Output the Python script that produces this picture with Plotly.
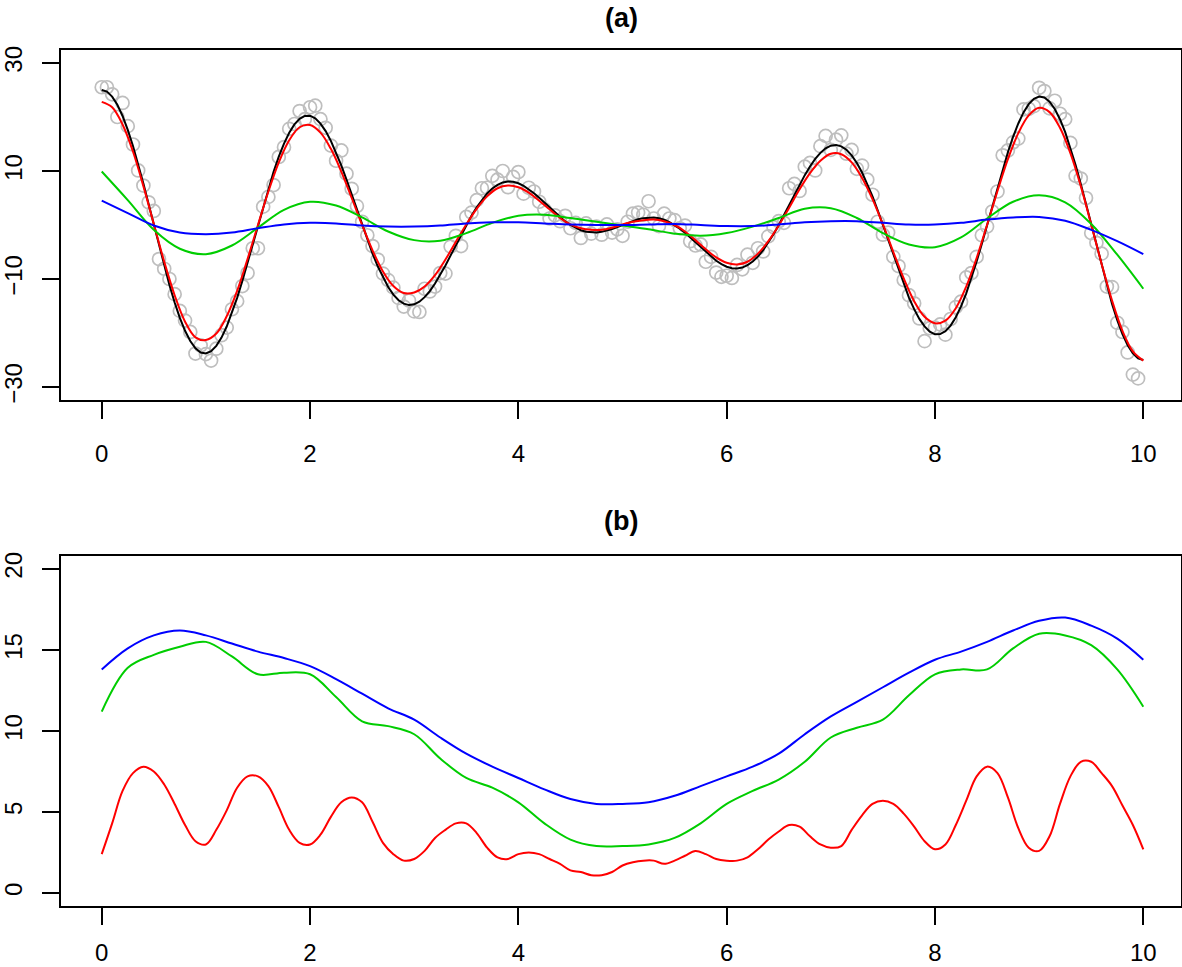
import plotly.graph_objects as go

# ---------------- Panel (a) data ----------------
pts_x = [round(i * 0.05, 2) for i in range(200)]
pts_y = [25.5, 25.5, 24.2, 20.0, 22.6, 18.3, 14.9, 10.1, 7.3, 4.2,
         2.6, -6.3, -8.1, -10.0, -12.8, -15.9, -17.7, -19.8, -23.8, -22.3,
         -23.9, -25.1, -22.9, -20.4, -19.0, -15.6, -14.1, -11.3, -8.9, -4.3,
         -4.3, 3.4, 5.2, 7.4, 12.6, 14.4, 17.8, 18.7, 21.1, 19.6,
         21.8, 22.1, 19.6, 18.0, 14.7, 11.9, 13.8, 9.5, 6.7, 3.5,
         0.6, -1.9, -3.9, -6.4, -9.0, -10.2, -11.6, -13.5, -15.1, -14.0,
         -16.0, -16.1, -11.8, -12.3, -11.4, -8.9, -9.0, -4.0, -2.0, -3.9,
         1.5, 2.3, 4.6, 6.8, 6.9, 9.1, 8.4, 10.0, 7.0, 8.9,
         9.8, 5.8, 6.9, 6.2, 4.3, 2.9, 1.2, 1.8, 0.7, 1.7,
         -0.6, 0.4, -2.4, 0.3, -1.6, -0.3, -1.8, 0.1, -1.4, -0.8,
         -2.0, 0.6, 2.1, 2.3, 1.9, 4.4, 1.2, -0.2, 2.1, 1.2,
         0.9, -0.6, -0.1, -3.0, -3.8, -3.6, -6.8, -5.9, -8.8, -9.6,
         -9.4, -9.8, -7.4, -8.2, -5.5, -7.0, -4.3, -4.9, -2.1, -0.4,
         0.7, 0.4, 6.8, 7.6, 6.3, 10.8, 11.5, 10.1, 14.6, 16.5,
         13.9, 15.8, 16.6, 13.2, 13.9, 10.4, 11.0, 8.4, 5.6, 0.6,
         -1.8, -1.4, -5.9, -7.6, -10.2, -13.0, -14.5, -17.3, -21.5, -19.1,
         -19.0, -18.4, -20.3, -17.4, -15.2, -14.2, -9.7, -8.9, -5.9, -1.9,
         -0.3, 2.5, 6.2, 12.9, 13.8, 15.3, 16.0, 21.4, 21.5, 22.0,
         25.4, 24.8, 21.6, 23.0, 20.6, 19.6, 15.2, 9.1, 8.6, 5.0,
         -1.5, -3.3, -5.3, -11.4, -11.5, -18.1, -19.8, -23.6, -27.7, -28.4]

true_x = [round(i * 0.05, 2) for i in range(201)]
true_y = [25.00, 24.69, 23.77, 22.25, 20.18, 17.62, 14.63, 11.28, 7.66, 3.87,
          0.00, -3.85, -7.59, -11.11, -14.34, -17.19, -19.59, -21.48, -22.84, -23.60,
          -23.78, -23.36, -22.37, -20.84, -18.80, -16.33, -13.48, -10.35, -6.99, -3.51,
          0.00, 3.45, 6.77, 9.86, 12.65, 15.08, 17.08, 18.62, 19.67, 20.20,
          20.23, 19.74, 18.78, 17.38, 15.58, 13.44, 11.02, 8.39, 5.63, 2.81,
          0.00, -2.72, -5.29, -7.64, -9.72, -11.48, -12.90, -13.93, -14.57, -14.83,
          -14.69, -14.20, -13.36, -12.23, -10.84, -9.23, -7.48, -5.63, -3.72, -1.83,
          0.00, 1.72, 3.29, 4.67, 5.84, 6.77, 7.44, 7.88, 8.06, 8.00,
          7.73, 7.26, 6.63, 5.88, 5.03, 4.13, 3.20, 2.30, 1.45, 0.67,
          0.00, -0.55, -0.97, -1.24, -1.38, -1.39, -1.27, -1.05, -0.75, -0.39,
          0.00, 0.39, 0.75, 1.05, 1.27, 1.39, 1.38, 1.24, 0.97, 0.55,
          0.00, -0.67, -1.45, -2.30, -3.20, -4.13, -5.03, -5.88, -6.63, -7.26,
          -7.73, -8.00, -8.06, -7.88, -7.44, -6.77, -5.84, -4.67, -3.29, -1.72,
          0.00, 1.83, 3.72, 5.63, 7.48, 9.23, 10.84, 12.23, 13.36, 14.20,
          14.69, 14.83, 14.57, 13.93, 12.90, 11.48, 9.72, 7.64, 5.29, 2.72,
          0.00, -2.81, -5.63, -8.39, -11.02, -13.44, -15.58, -17.38, -18.78, -19.74,
          -20.23, -20.20, -19.67, -18.62, -17.08, -15.08, -12.65, -9.86, -6.77, -3.45,
          0.00, 3.51, 6.99, 10.35, 13.48, 16.33, 18.80, 20.84, 22.37, 23.36,
          23.78, 23.60, 22.84, 21.48, 19.59, 17.19, 14.34, 11.11, 7.59, 3.85,
          0.00, -3.87, -7.66, -11.28, -14.63, -17.62, -20.18, -22.25, -23.77, -24.69,
          -25.00]

fit_x = [round(i * 0.1, 1) for i in range(101)]
red_a = [22.8, 21.8, 18.6, 13.6, 7.2, 0.2, -6.8, -13.0, -17.9, -20.8,
         -21.3, -20.1, -16.9, -12.2, -6.3, 0.0, 6.2, 11.6, 15.7, 18.1,
         18.5, 17.1, 14.1, 9.9, 5.0, 0.0, -4.7, -8.6, -11.3, -12.6,
         -12.5, -11.4, -9.3, -6.4, -3.1, 0.1, 3.0, 5.3, 6.8, 7.3,
         7.0, 6.0, 4.5, 2.9, 1.3, 0.1, -0.6, -0.9, -0.9, -0.5,
         0.1, 0.6, 0.9, 1.0, 0.7, 0.0, -1.2, -2.8, -4.5, -6.0,
         -7.0, -7.3, -6.8, -5.3, -3.0, -0.1, 3.2, 6.6, 9.6, 11.9,
         13.2, 13.1, 11.6, 8.7, 4.8, 0.1, -5.0, -9.9, -14.1, -17.0,
         -18.2, -17.7, -15.4, -11.4, -6.1, 0.0, 6.3, 12.2, 17.0, 20.3,
         21.7, 20.9, 18.0, 13.3, 7.2, 0.1, -7.2, -14.0, -19.6, -23.4,
         -25.1]

smooth_x = [round(i * 0.25, 2) for i in range(41)]
green_a = [9.9, 4.6, -0.9, -4.4, -5.4, -3.8, -0.5, 2.8, 4.3, 3.6,
           1.4, -1.2, -2.8, -2.9, -1.5, 0.4, 1.7, 1.9, 1.3, 0.6,
           -0.1, -0.8, -1.6, -2.0, -1.5, -0.3, 1.3, 3.0, 3.1, 1.3,
           -1.5, -3.6, -4.1, -2.3, 1.2, 4.3, 5.5, 4.2, 0.2, -5.5,
           -11.8]
blue_a = [4.5, 2.2, -0.1, -1.4, -1.7, -1.4, -0.6, 0.1, 0.4, 0.3,
          -0.1, -0.3, -0.3, -0.1, 0.3, 0.5, 0.5, 0.3, 0.1, 0.0,
          0.0, 0.1, 0.2, 0.0, -0.2, -0.2, 0.1, 0.5, 0.7, 0.7,
          0.4, 0.1, 0.1, 0.4, 1.0, 1.4, 1.5, 0.8, -0.9, -3.0,
          -5.4]

# ---------------- Panel (b) data ----------------
red_b = [2.4, 4.3, 6.3, 7.4, 7.8, 7.5, 6.7, 5.5, 4.2, 3.2,
         3.0, 3.9, 5.1, 6.5, 7.2, 7.2, 6.6, 5.3, 3.9, 3.1,
         3.0, 3.6, 4.7, 5.6, 5.9, 5.6, 4.4, 3.1, 2.4, 2.0,
         2.1, 2.6, 3.4, 3.9, 4.3, 4.3, 3.7, 2.8, 2.2, 2.1,
         2.4, 2.5, 2.4, 2.1, 1.8, 1.4, 1.3, 1.1, 1.1, 1.3,
         1.7, 1.9, 2.0, 2.0, 1.8, 2.0, 2.3, 2.6, 2.4, 2.1,
         2.0, 2.0, 2.2, 2.7, 3.3, 3.8, 4.2, 4.1, 3.5, 3.0,
         2.8, 2.9, 3.9, 4.8, 5.5, 5.7, 5.5, 4.9, 4.1, 3.2,
         2.7, 3.0, 4.2, 5.7, 7.2, 7.8, 7.4, 5.9, 4.0, 2.8,
         2.6, 3.5, 5.5, 7.2, 8.1, 8.1, 7.4, 6.6, 5.4, 4.2,
         2.7]
green_b = [11.2, 13.9, 14.7, 15.2, 15.5, 14.6, 13.5, 13.6, 13.5, 12.1,
           10.6, 10.3, 9.8, 8.3, 7.1, 6.5, 5.6, 4.3, 3.3, 2.9,
           2.9, 3.0, 3.4, 4.3, 5.5, 6.3, 7.0, 8.1, 9.6, 10.2,
           10.7, 12.2, 13.5, 13.8, 13.8, 15.1, 16.0, 15.9, 15.3, 13.8,
           11.5]
blue_b = [13.8, 15.1, 15.9, 16.2, 15.9, 15.4, 14.9, 14.5, 14.0, 13.2,
          12.3, 11.4, 10.7, 9.6, 8.6, 7.8, 7.1, 6.4, 5.8, 5.5,
          5.5, 5.6, 6.0, 6.6, 7.2, 7.8, 8.6, 9.8, 10.9, 11.8,
          12.7, 13.6, 14.4, 14.9, 15.5, 16.2, 16.8, 17.0, 16.5, 15.7,
          14.4]

x_ticks = [0, 2, 4, 6, 8, 10]
ya_ticks = [-30, -10, 10, 30]
yb_ticks = [0, 5, 10, 15, 20]

W, H = 1182, 967
FONT = "Liberation Sans, Arial, Helvetica, sans-serif"
GREEN = "#00CD00"


def px(v):
    return v / W


def py(v):
    return 1 - v / H


fig = go.Figure()

# panel (a)
fig.add_trace(go.Scatter(x=pts_x, y=pts_y, mode="markers", xaxis="x", yaxis="y",
                         marker=dict(symbol="circle-open", size=13, color="#BEBEBE",
                                     line=dict(width=1.7, color="#BEBEBE")),
                         showlegend=False))
fig.add_trace(go.Scatter(x=true_x, y=true_y, mode="lines", xaxis="x", yaxis="y",
                         line=dict(color="black", width=2), showlegend=False))
fig.add_trace(go.Scatter(x=fit_x, y=red_a, mode="lines", xaxis="x", yaxis="y",
                         line=dict(color="#FF0000", width=2, shape="spline"), showlegend=False))
fig.add_trace(go.Scatter(x=smooth_x, y=green_a, mode="lines", xaxis="x", yaxis="y",
                         line=dict(color=GREEN, width=2, shape="spline"), showlegend=False))
fig.add_trace(go.Scatter(x=smooth_x, y=blue_a, mode="lines", xaxis="x", yaxis="y",
                         line=dict(color="#0000FF", width=2, shape="spline"), showlegend=False))

# panel (b)
fig.add_trace(go.Scatter(x=smooth_x, y=blue_b, mode="lines", xaxis="x2", yaxis="y2",
                         line=dict(color="#0000FF", width=2, shape="spline"), showlegend=False))
fig.add_trace(go.Scatter(x=smooth_x, y=green_b, mode="lines", xaxis="x2", yaxis="y2",
                         line=dict(color=GREEN, width=2, shape="spline"), showlegend=False))
fig.add_trace(go.Scatter(x=fit_x, y=red_b, mode="lines", xaxis="x2", yaxis="y2",
                         line=dict(color="#FF0000", width=2, shape="spline"), showlegend=False))

xdom = [px(61), px(1181)]
ya_dom = [py(400), py(50)]
yb_dom = [py(906), py(556)]

common = dict(showgrid=False, zeroline=False, showline=True, linecolor="black", linewidth=2,
              mirror=True, ticks="outside", ticklen=17, tickwidth=1.6, tickcolor="black",
              automargin=False,
              tickfont=dict(family=FONT, size=24, color="black"))

xrange_ = [-0.391, 10.362]
fig.update_layout(
    width=W, height=H, margin=dict(l=0, r=0, t=0, b=0, autoexpand=False),
    paper_bgcolor="white", plot_bgcolor="white",
    xaxis=dict(domain=xdom, range=xrange_, tickvals=x_ticks, anchor="y",
               ticklabelstandoff=14, **common),
    yaxis=dict(domain=ya_dom, range=[-32.4, 32.4], tickvals=ya_ticks, anchor="x",
               tickangle=-90, ticklabelstandoff=10, **common),
    xaxis2=dict(domain=xdom, range=xrange_, tickvals=x_ticks, anchor="y2",
                ticklabelstandoff=7, **common),
    yaxis2=dict(domain=yb_dom, range=[-0.8, 20.8], tickvals=yb_ticks, anchor="x2",
                tickangle=-90, ticklabelstandoff=10, **common),
    annotations=[
        dict(text="<b>(a)</b>", x=px(621), y=py(18), xref="paper", yref="paper",
             showarrow=False, xanchor="center", yanchor="middle",
             font=dict(family=FONT, size=27, color="black")),
        dict(text="<b>(b)</b>", x=px(621), y=py(521), xref="paper", yref="paper",
             showarrow=False, xanchor="center", yanchor="middle",
             font=dict(family=FONT, size=27, color="black")),
    ],
)

fig.write_html("out.html", config={"displayModeBar": False},
               post_script="document.body.style.margin='0px';")
